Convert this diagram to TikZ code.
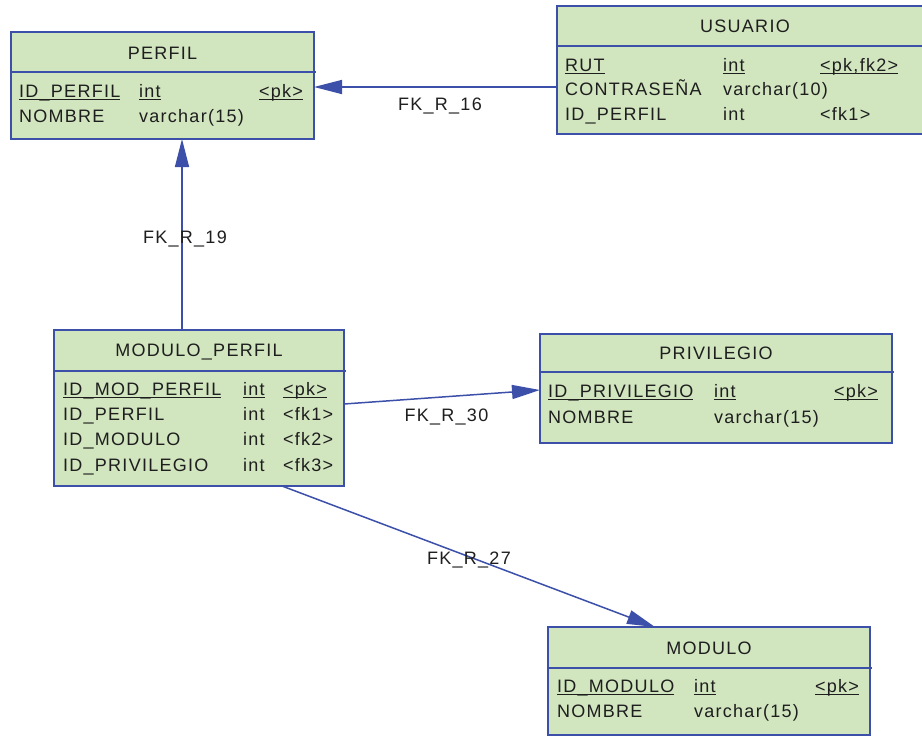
\documentclass[tikz,border=0pt]{standalone}
\usepackage{fontspec}
\setmainfont{Liberation Sans}[LetterSpace=7]
\usetikzlibrary{arrows.meta}
\definecolor{ln}{RGB}{60,80,170}
\definecolor{bg}{RGB}{209,229,191}
\definecolor{tx}{RGB}{30,30,30}
\newcommand\fs{\fontsize{18}{22}\selectfont}
\newcommand\myul[1]{\setbox0\hbox{#1}\rlap{\color{tx}\rule[-3pt]{\wd0}{1.3pt}}\box0}
\begin{document}
\begin{tikzpicture}[x=1pt,y=-1pt,
  entity/.style={draw=ln, line width=1.5pt, fill=bg, anchor=north west, inner sep=0pt, outer sep=0pt},
  divider/.style={draw=ln, line width=1.5pt},
  cell/.style={anchor=base west, inner sep=0pt, text=tx, font=\fs},
  ttl/.style={anchor=base, inner sep=0pt, text=tx, font=\fs},
  fk/.style={draw=ln, line width=1.5pt, -{Triangle[length=28pt,width=14pt]}},
  lbl/.style={anchor=base, inner sep=0pt, text=tx, font=\fs}]
\useasboundingbox (0,0) rectangle (922,736);
\fill[white] (0,0) rectangle (922,736);

% PERFIL
\node[entity, minimum width=303pt, minimum height=107pt] (perfil) at (11,32) {};
\draw[divider] (perfil.west |- 0,72) -- (316,72);
\node[ttl] (perfilT) at (162.5,59.5) {PERFIL};
\node[cell] (p1n) at (19,97) {\myul{ID\_PERFIL}};
\node[cell] (p1t) at (139,97) {\myul{int}};
\node[cell] (p1k) at (259,97) {\myul{<pk>}};
\node[cell] (p2n) at (19,122) {NOMBRE};
\node[cell] (p2t) at (139,122) {varchar(15)};

% USUARIO
\node[entity, minimum width=376pt, minimum height=128pt] (usuario) at (557,6) {};
\draw[divider] (usuario.west |- 0,46) -- (935,46);
\node[ttl] (usuarioT) at (745,32.5) {USUARIO};
\node[cell] (u1n) at (565,71) {\myul{RUT}};
\node[cell] (u1t) at (723,71) {\myul{int}};
\node[cell] (u1k) at (820,71) {\myul{<pk,fk2>}};
\node[cell] (u2n) at (565,95) {CONTRASEÑA};
\node[cell] (u2t) at (723,95) {varchar(10)};
\node[cell] (u3n) at (565,120) {ID\_PERFIL};
\node[cell] (u3t) at (723,120) {int};
\node[cell] (u3k) at (820,120) {<fk1>};

% MODULO_PERFIL
\node[entity, minimum width=290pt, minimum height=156pt] (mp) at (54,330) {};
\draw[divider] (mp.west |- 0,371) -- (346,371);
\node[ttl] (mpT) at (199,356.5) {MODULO\_PERFIL};
\node[cell] (m1n) at (63,395) {\myul{ID\_MOD\_PERFIL}};
\node[cell] (m1t) at (243,395) {\myul{int}};
\node[cell] (m1k) at (283,395) {\myul{<pk>}};
\node[cell] (m2n) at (63,420) {ID\_PERFIL};
\node[cell] (m2t) at (243,420) {int};
\node[cell] (m2k) at (283,420) {<fk1>};
\node[cell] (m3n) at (63,445) {ID\_MODULO};
\node[cell] (m3t) at (243,445) {int};
\node[cell] (m3k) at (283,445) {<fk2>};
\node[cell] (m4n) at (63,471) {ID\_PRIVILEGIO};
\node[cell] (m4t) at (243,471) {int};
\node[cell] (m4k) at (283,471) {<fk3>};

% PRIVILEGIO
\node[entity, minimum width=352pt, minimum height=109pt] (priv) at (540,334) {};
\draw[divider] (priv.west |- 0,372) -- (894,372);
\node[ttl] (privT) at (716,359.5) {PRIVILEGIO};
\node[cell] (r1n) at (548,397) {\myul{ID\_PRIVILEGIO}};
\node[cell] (r1t) at (714,397) {\myul{int}};
\node[cell] (r1k) at (834,397) {\myul{<pk>}};
\node[cell] (r2n) at (548,423) {NOMBRE};
\node[cell] (r2t) at (714,423) {varchar(15)};

% MODULO
\node[entity, minimum width=322pt, minimum height=108pt] (modulo) at (548,627) {};
\draw[divider] (modulo.west |- 0,668) -- (872,668);
\node[ttl] (moduloT) at (709,654.5) {MODULO};
\node[cell] (o1n) at (557,692) {\myul{ID\_MODULO}};
\node[cell] (o1t) at (694,692) {\myul{int}};
\node[cell] (o1k) at (815,692) {\myul{<pk>}};
\node[cell] (o2n) at (557,717) {NOMBRE};
\node[cell] (o2t) at (694,717) {varchar(15)};

% connectors
\draw[fk] (usuario.west |- 0,87) -- (perfil.east |- 0,87);
\draw[fk] (182,0 |- mp.north) -- (182,0 |- perfil.south);
\draw[fk] (mp.east |- 0,404) -- (priv.west |- 0,390);
\draw[fk] (282,0 |- mp.south) -- (655,0 |- modulo.north);

% labels
\node[lbl] (l16) at (440,110) {FK\_R\_16};
\node[lbl] (l19) at (185,243.5) {FK\_R\_19};
\node[lbl] (l30) at (446.5,421.5) {FK\_R\_30};
\node[lbl] (l27) at (469,564.5) {FK\_R\_27};
\end{tikzpicture}
\end{document}
